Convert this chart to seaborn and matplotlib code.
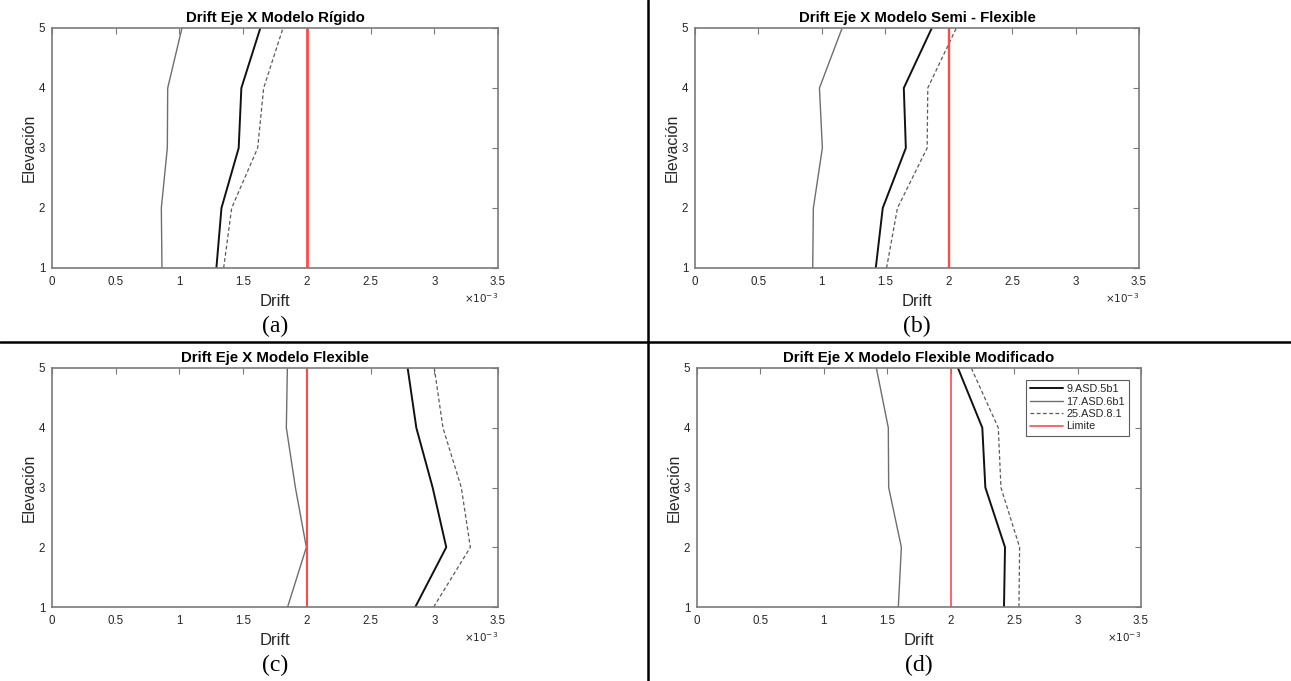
import matplotlib
matplotlib.use("Agg")
import matplotlib.pyplot as plt
import seaborn as sns
import pandas as pd
import numpy as np
from matplotlib.lines import Line2D

sns.set_theme(style="white")
plt.rcParams['font.family'] = ['Liberation Sans', 'DejaVu Sans']

# ---- data (drift values in units of 1e-3) ----
elevacion = [1, 2, 3, 4, 5]
series_names = ["9.ASD.5b1", "17.ASD.6b1", "25.ASD.8.1"]
limite = 2.0

rigido_9 = [1.29, 1.33, 1.465, 1.486, 1.635]
rigido_17 = [0.863, 0.858, 0.905, 0.908, 1.02]
rigido_25 = [1.347, 1.41, 1.614, 1.661, 1.813]

semi_9 = [1.425, 1.48, 1.662, 1.646, 1.867]
semi_17 = [0.928, 0.933, 1.004, 0.981, 1.16]
semi_25 = [1.51, 1.596, 1.83, 1.835, 2.06]

flex_9 = [2.851, 3.094, 2.987, 2.859, 2.791]
flex_17 = [1.849, 1.996, 1.91, 1.839, 1.847]
flex_25 = [2.995, 3.283, 3.212, 3.068, 3.0]

mod_9 = [2.42, 2.428, 2.273, 2.249, 2.057]
mod_17 = [1.587, 1.611, 1.511, 1.508, 1.414]
mod_25 = [2.538, 2.543, 2.396, 2.375, 2.162]

titles = ["Drift Eje X Modelo Rígido", "Drift Eje X Modelo Semi - Flexible",
          "Drift Eje X Modelo Flexible", "Drift Eje X Modelo Flexible Modificado"]
captions = ["(a)", "(b)", "(c)", "(d)"]
xticks = [0, 0.5, 1, 1.5, 2, 2.5, 3, 3.5]
xticklabels = ["0", "0.5", "1", "1.5", "2", "2.5", "3", "3.5"]
yticks = [1, 2, 3, 4, 5]

panels = [
    (rigido_9, rigido_17, rigido_25),
    (semi_9, semi_17, semi_25),
    (flex_9, flex_17, flex_25),
    (mod_9, mod_17, mod_25),
]

W, H = 1291, 681
fig = plt.figure(figsize=(W / 100, H / 100), dpi=100)
fig.patch.set_facecolor("white")

# axes rectangles in pixels: left, top, right, bottom
rects = [(52, 28, 498, 268), (695, 28, 1139, 268),
         (52, 368, 498, 607), (697, 368, 1141, 607)]
caption_y = [326, 326, 665, 665]

styles = [
    dict(color="#111111", linewidth=1.4, linestyle="-"),
    dict(color="#6e6e6e", linewidth=1.0, linestyle="-"),
    dict(color="#5a5a5a", linewidth=0.9, linestyle=(0, (3, 2))),
]
red_lw = [2.0, 1.7, 1.5, 1.2]
spine_col = "#7a7a7a"
txt_col = "#262626"

for i, (data, (l, t, r, b)) in enumerate(zip(panels, rects)):
    ax = fig.add_axes([l / W, 1 - b / H, (r - l) / W, (b - t) / H])
    for name, vals, st in zip(series_names, data, styles):
        df = pd.DataFrame({"Drift": vals, "Elevacion": elevacion})
        sns.lineplot(data=df, x="Drift", y="Elevacion", sort=False, estimator=None,
                     ax=ax, label=name, **st)
    ax.axvline(limite, color="#ff4a4a", linewidth=red_lw[i], label="Limite")
    ax.set_xlim(0, 3.5)
    ax.set_ylim(1, 5)
    ax.set_xticks(xticks)
    ax.set_xticklabels(xticklabels)
    ax.set_yticks(yticks)
    ax.tick_params(direction="in", length=4, width=0.8, top=True, right=True,
                   labelsize=8.3, colors=spine_col, labelcolor=txt_col, pad=6)
    ax.tick_params(axis="y", pad=5)
    for sp in ax.spines.values():
        sp.set_color(spine_col)
        sp.set_linewidth(1.2)
    ax.set_xlabel("Drift", fontsize=12, color=txt_col, labelpad=4)
    ax.set_ylabel("Elevación", fontsize=11.3, color=txt_col, labelpad=1)
    ax.set_title(titles[i], fontsize=10.8, fontweight="bold", color="black", pad=4)
    ax.text(1.0, -0.125, r"$\times10^{-3}$", transform=ax.transAxes, ha="right",
            va="center", fontsize=7.5, color=txt_col)
    if i == 3:
        leg = ax.legend(loc="upper right", fontsize=7.8, frameon=True, fancybox=False,
                        handlelength=3.0, borderpad=0.4, labelspacing=0.22,
                        handletextpad=0.3, borderaxespad=1.1)
        leg.get_frame().set_edgecolor("#333333")
        leg.get_frame().set_linewidth(0.8)
    else:
        lg = ax.get_legend()
        if lg is not None:
            lg.remove()
    cx = (l + r) / 2 / W
    fig.text(cx, 1 - caption_y[i] / H, captions[i], ha="center", va="center",
             fontsize=17, family=["Liberation Serif", "DejaVu Serif"], color="black")

# separators
fig.add_artist(Line2D([647.5 / W, 647.5 / W], [0, 1], color="black", linewidth=1.8,
                      transform=fig.transFigure))
fig.add_artist(Line2D([0, 1], [1 - 341.5 / H, 1 - 341.5 / H], color="black",
                      linewidth=1.8, transform=fig.transFigure))

fig.savefig("out.png", dpi=100, facecolor="white")
